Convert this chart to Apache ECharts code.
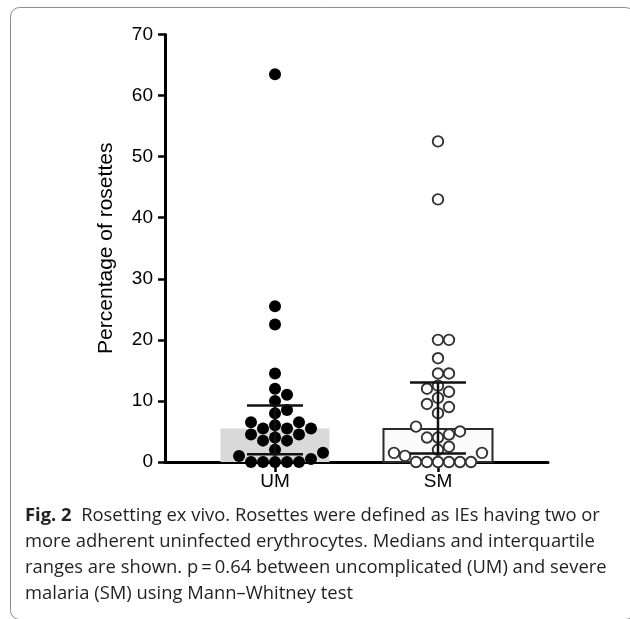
<!DOCTYPE html>
<html>
<head>
<meta charset="utf-8">
<script src="https://cdn.jsdelivr.net/npm/echarts@6/dist/echarts.min.js"></script>
<style>
html,body{margin:0;padding:0;background:#fff;}
#chart{width:630px;height:619px;}
</style>
</head>
<body>
<div id="chart"></div>
<script>
// ---- data ----
const categories = ['UM', 'SM'];
const umValues = [0, 0, 0, 0, 0, 0.5, 1, 1.5, 2, 3.5, 3.5, 4, 4.5, 4.5, 5.5, 5.5, 5.5, 6, 6.5, 6.5, 8, 8.5, 10, 11, 12, 14.5, 22.5, 25.5, 63.5];
const smValues = [0, 0, 0, 0, 0, 0, 1, 1.5, 1.5, 2, 2.5, 4, 4, 4.5, 5, 5.8, 8, 9, 9.5, 10.5, 11.5, 12, 12.5, 14.5, 14.5, 17, 20, 20, 43, 52.5];
const yAxisName = 'Percentage of rosettes';
const captionLines = [
  '{b|Fig. 2}  Rosetting ex vivo. Rosettes were defined as IEs having two or',
  'more adherent uninfected erythrocytes. Medians and interquartile',
  'ranges are shown. p\u2009=\u20090.64 between uncomplicated (UM) and severe',
  'malaria (SM) using Mann\u2013Whitney test'
];

// ---- statistics (GraphPad style percentiles) ----
function percentile(vals, p) {
  const s = vals.slice().sort((a, b) => a - b);
  const n = s.length;
  const h = (n + 1) * p;
  const lo = Math.floor(h);
  const f = h - lo;
  if (lo < 1) return s[0];
  if (lo >= n) return s[n - 1];
  return s[lo - 1] + f * (s[lo] - s[lo - 1]);
}
const groups = [umValues, smValues];
const medianData = groups.map((g, i) => [i, percentile(g, 0.5)]);
const iqrData = groups.map((g, i) => [i, percentile(g, 0.25), percentile(g, 0.75)]);

const barStyles = [
  { fill: '#d8d9d8', stroke: null, lineWidth: 0 },
  { fill: '#fbfbfb', stroke: '#2a2a2a', lineWidth: 2 }
];
const FONT = 'Liberation Sans, Arial, Helvetica, sans-serif';
const CAP_FONT = 'Open Sans, sans-serif';

const chart = echarts.init(document.getElementById('chart'), null, { renderer: 'canvas' });

function baseOption(umData, smData) {
  return {
    animation: false,
    backgroundColor: '#fff',
    grid: { left: 165, right: 82, top: 34.5, bottom: 157, containLabel: false },
    xAxis: {
      type: 'value', min: -0.675, max: 1.675,
      splitLine: { show: false },
      axisLine: { show: true, onZero: false, lineStyle: { color: '#000', width: 3 } },
      axisTick: { show: true, customValues: [0, 1], length: 10, lineStyle: { color: '#000', width: 2.5 } },
      axisLabel: {
        customValues: [0, 1],
        formatter: v => categories[Math.round(v)] || '',
        fontSize: 19, color: '#000', fontFamily: FONT, margin: 10
      }
    },
    yAxis: {
      type: 'value', min: 0, max: 70, interval: 10,
      splitLine: { show: false },
      axisLine: { show: true, onZero: false, lineStyle: { color: '#000', width: 3 } },
      axisTick: { show: true, inside: false, length: 7, lineStyle: { color: '#000', width: 2.5 } },
      axisLabel: { fontSize: 19, color: '#000', fontFamily: FONT, margin: 12 },
      name: yAxisName, nameLocation: 'middle', nameGap: 48,
      nameTextStyle: { fontSize: 21, color: '#000', fontFamily: FONT }
    },
    series: [
      {
        type: 'custom', z: 1, silent: true,
        data: medianData,
        encode: { x: 0, y: 1 },
        renderItem: function (params, api) {
          const x = api.value(0), v = api.value(1);
          const p0 = api.coord([x, 0]);
          const p1 = api.coord([x, v]);
          const st = barStyles[params.dataIndex];
          const half = 54.5;
          return {
            type: 'rect',
            shape: { x: p0[0] - half, y: p1[1], width: half * 2, height: p0[1] - p1[1] },
            style: { fill: st.fill, stroke: st.stroke, lineWidth: st.lineWidth }
          };
        }
      },
      {
        type: 'scatter', z: 3, silent: true,
        symbol: 'circle', symbolSize: 12,
        itemStyle: { color: '#000', opacity: 1 },
        data: umData
      },
      {
        type: 'scatter', z: 3, silent: true,
        symbol: 'circle', symbolSize: 10.5,
        itemStyle: { color: '#fff', borderColor: '#333', borderWidth: 1.9, opacity: 1 },
        data: smData
      },
      {
        type: 'custom', z: 5, silent: true,
        data: iqrData,
        encode: { x: 0, y: [1, 2] },
        renderItem: function (params, api) {
          const x = api.value(0);
          const lo = api.coord([x, api.value(1)]);
          const hi = api.coord([x, api.value(2)]);
          const cap = 28;
          const ls = { stroke: '#111', lineWidth: 2.5 };
          return {
            type: 'group',
            children: [
              { type: 'line', shape: { x1: lo[0], y1: lo[1], x2: hi[0], y2: hi[1] }, style: ls },
              { type: 'line', shape: { x1: lo[0] - cap, y1: lo[1], x2: lo[0] + cap, y2: lo[1] }, style: ls },
              { type: 'line', shape: { x1: hi[0] - cap, y1: hi[1], x2: hi[0] + cap, y2: hi[1] }, style: ls }
            ]
          };
        }
      }
    ],
    graphic: [
      {
        type: 'rect', silent: true, z: -10,
        shape: { x: 10.5, y: 7.5, width: 624, height: 612, r: 9 },
        style: { fill: null, stroke: '#8c8c8c', lineWidth: 1 }
      }
    ].concat(captionLines.map((t, i) => ({
      type: 'text', silent: true,
      x: 25, y: 516 + i * 26,
      style: {
        text: t,
        fontSize: 18.4, fontFamily: CAP_FONT, fill: '#231f20',
        verticalAlign: 'middle', align: 'left',
        rich: { b: { fontSize: 18.4, fontWeight: 'bold', fontFamily: CAP_FONT, fill: '#231f20' } }
      }
    })))
  };
}

// first pass: plain positions to obtain the scales
chart.setOption(baseOption(umValues.map(v => [0, v]), smValues.map(v => [1, v])));

// beeswarm layout computed in pixel space via the chart's own scales
const pxX = chart.convertToPixel({ xAxisIndex: 0 }, 1) - chart.convertToPixel({ xAxisIndex: 0 }, 0);
const pxY = Math.abs(chart.convertToPixel({ yAxisIndex: 0 }, 1) - chart.convertToPixel({ yAxisIndex: 0 }, 0));

function swarm(vals, D) {
  const order = vals.map((v, i) => i).sort((a, b) => vals[a] - vals[b]);
  const placed = [];
  const off = new Array(vals.length).fill(0);
  for (const i of order) {
    const y = vals[i] * pxY;
    for (let k = 0; k < 100; k++) {
      const c = k === 0 ? 0 : (k % 2 ? Math.ceil(k / 2) : -k / 2);
      const x = c * D;
      if (placed.every(p => (p.x - x) * (p.x - x) + (p.y - y) * (p.y - y) >= D * D - 0.01)) {
        placed.push({ x: x, y: y });
        off[i] = x;
        break;
      }
    }
  }
  return off;
}

const umOff = swarm(umValues, 12);
const smOff = swarm(smValues, 11);
chart.setOption(baseOption(
  umValues.map((v, i) => [0 + umOff[i] / pxX, v]),
  smValues.map((v, i) => [1 + smOff[i] / pxX, v])
));
</script>
</body>
</html>
